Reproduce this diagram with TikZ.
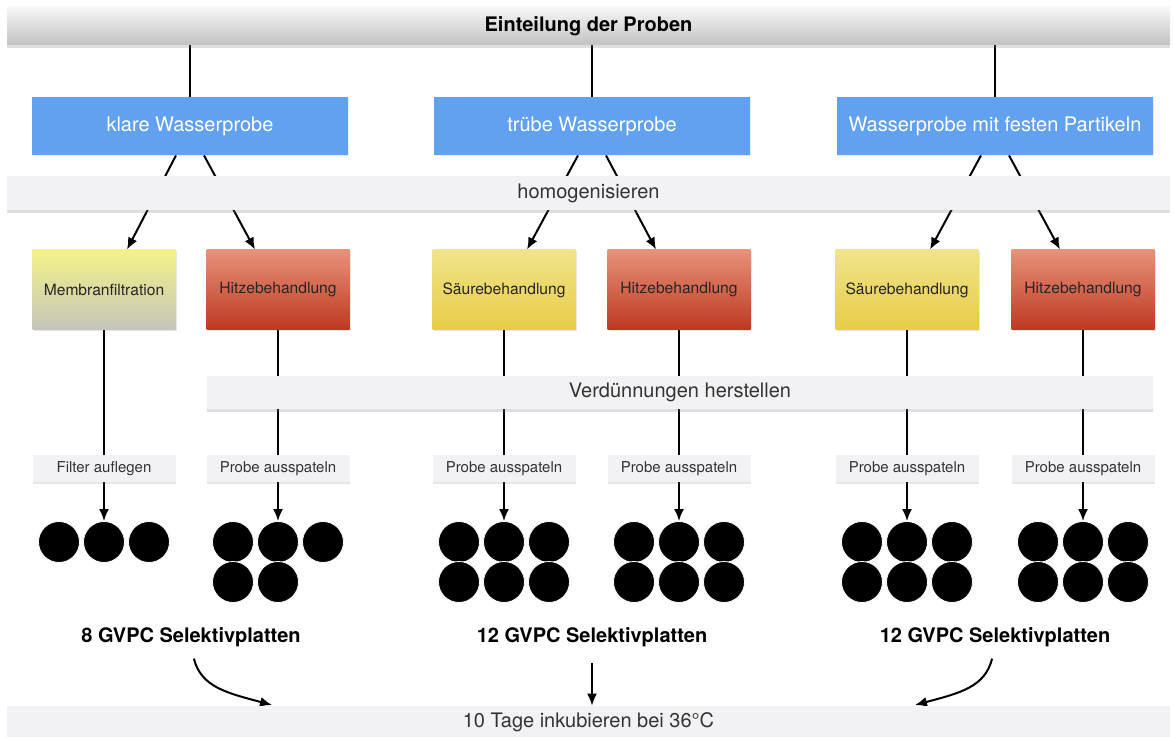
\documentclass[tikz,border=0pt]{standalone}
\usepackage{fontspec}
\setmainfont{TeX Gyre Heros}
\usetikzlibrary{calc,shadows,backgrounds,arrows.meta}

\definecolor{probeblau}{RGB}{97,161,240}
\definecolor{balkengrau}{RGB}{242,242,244}
\definecolor{textgrau}{RGB}{51,51,51}
\definecolor{gelbhell}{RGB}{240,228,140}
\definecolor{gelbdunkel}{RGB}{232,204,68}
\definecolor{rothell}{RGB}{232,146,122}
\definecolor{rotdunkel}{RGB}{190,56,32}
\definecolor{membranhell}{RGB}{243,243,138}
\definecolor{membrandunkel}{RGB}{196,196,186}

\tikzset{
	balken/.style={fill=balkengrau, minimum height=17pt, inner sep=0pt, text=textgrau, font=\fontsize{10}{12}\selectfont, drop shadow={opacity=0.25, shadow xshift=0pt, shadow yshift=-1.5pt}},
	probe/.style={fill=probeblau, minimum width=158pt, minimum height=29pt, text=white, font=\fontsize{10}{12}\selectfont, drop shadow={opacity=0.15, shadow xshift=0.5pt, shadow yshift=-0.5pt}},
	behandlung/.style={minimum width=71.5pt, minimum height=40pt, inner sep=0pt, text=black!85, font=\fontsize{7.8}{9}\selectfont, drop shadow={opacity=0.2, shadow xshift=0.5pt, shadow yshift=-0.7pt}},
	saeure/.style={behandlung, top color=gelbhell, bottom color=gelbdunkel},
	hitze/.style={behandlung, top color=rothell, bottom color=rotdunkel},
	membran/.style={behandlung, top color=membranhell, bottom color=membrandunkel},
	schritt/.style={fill=balkengrau, minimum width=71.5pt, minimum height=13.5pt, inner sep=0pt, text=textgrau, font=\fontsize{7.5}{9}\selectfont, drop shadow={opacity=0.2, shadow xshift=0pt, shadow yshift=-1pt}},
	platte/.style={circle, fill=black, draw=white, line width=0.4pt, minimum size=20.5pt, inner sep=0pt},
	ergebnis/.style={inner sep=0pt, font=\bfseries\fontsize{10}{12}\selectfont},
	linie/.style={line width=1pt},
	pfeil/.style={line width=1pt, -{Latex[length=6pt,width=5pt]}}
}

\begin{document}
\begin{tikzpicture}[x=0.5pt,y=-0.5pt]
		%%%%% START %%%%%
		\useasboundingbox (0,0) rectangle (1173,737);
		
		\node[balken, minimum width=581.5pt, minimum height=19pt, top color=black!3, bottom color=black!24, text=black, font=\bfseries\fontsize{10}{12}\selectfont] (einteilung) at (588.5,26) {Einteilung der Proben};
		
		\node[probe] (klar) at (190,126) {klare Wasserprobe};
		\node[probe] (trueb) at (592,126) {trübe Wasserprobe};
		\node[probe] (partikel) at (995,126) {Wasserprobe mit festen Partikeln};
		
		\node[balken, minimum width=581.5pt] (homogen) at (588.5,193) {homogenisieren};
		
		\node[membran] (membran) at (104,290) {Membranfiltration};
		\node[hitze] (hitzeA) at (278,290) {Hitzebehandlung};
		\node[saeure] (saeureB) at (504,290) {Säurebehandlung};
		\node[hitze] (hitzeB) at (679,290) {Hitzebehandlung};
		\node[saeure] (saeureC) at (907,290) {Säurebehandlung};
		\node[hitze] (hitzeC) at (1083,290) {Hitzebehandlung};
		
		\node[balken, minimum width=473pt, minimum height=16.5pt] (verduennen) at (680,392.5) {Verdünnungen herstellen};
		
		\node[schritt] (filter) at (104,468.5) {Filter auflegen};
		\node[schritt] (spatelA) at (278,468.5) {Probe ausspateln};
		\node[schritt] (spatelB) at (504,468.5) {Probe ausspateln};
		\node[schritt] (spatelBB) at (679,468.5) {Probe ausspateln};
		\node[schritt] (spatelC) at (907,468.5) {Probe ausspateln};
		\node[schritt] (spatelCC) at (1083,468.5) {Probe ausspateln};
		
		% platten
		\foreach \mitte/\gruppe in {104/pM,278/pHA,504/pSB,679/pHB,907/pSC,1083/pHC}
			\foreach \i in {1,2,3}
				\node[platte] (\gruppe\i) at ({\mitte+45*(\i-2)},542) {};
		\foreach \mitte/\gruppe in {504/pSB,679/pHB,907/pSC,1083/pHC}
			\foreach \i in {4,5,6}
				\node[platte] (\gruppe\i) at ({\mitte+45*(\i-5)},582) {};
		\node[platte] (pHA4) at (233,582) {};
		\node[platte] (pHA5) at (278,582) {};
		
		\node[ergebnis] (ergA) at (191,637) {8 GVPC Selektivplatten};
		\node[ergebnis] (ergB) at (592,637) {12 GVPC Selektivplatten};
		\node[ergebnis] (ergC) at (995,637) {12 GVPC Selektivplatten};
		
		\node[balken, minimum width=581.5pt, minimum height=16pt, drop shadow={opacity=0}] (inkubieren) at (588.5,722) {10 Tage inkubieren bei 36°C};
		
		\coordinate (zielA) at (272,705);
		\coordinate (zielC) at (915,705);
		
		\begin{pgfonlayer}{background}
		\foreach \probe in {klar,trueb,partikel}
			\draw[linie] (einteilung.south -| \probe.north) -- (\probe.north);
		
		\foreach \probe/\links/\rechts in {klar/membran/hitzeA, trueb/saeureB/hitzeB, partikel/saeureC/hitzeC} {
			\draw[pfeil] ($(\probe.south)+(-14,0)$) -- ($(\links.north)+(23,0)$);
			\draw[pfeil] ($(\probe.south)+(14,0)$) -- ($(\rechts.north)+(-23,0)$);
		}
		
		\foreach \oben/\unten/\platte in {membran/filter/pM2, hitzeA/spatelA/pHA2, saeureB/spatelB/pSB2, hitzeB/spatelBB/pHB2, saeureC/spatelC/pSC2, hitzeC/spatelCC/pHC2} {
			\draw[linie] (\oben.south) -- (\unten.north);
			\draw[pfeil] (\unten.south) -- (\platte.north);
		}
		
		\draw[pfeil, shorten <=6pt] (ergA.south) .. controls +(10,40) and +(-45,-12) .. (zielA);
		\draw[pfeil, shorten <=8pt] (ergB.south) -- (ergB.south |- inkubieren.north);
		\draw[pfeil, shorten <=6pt] (ergC.south) .. controls +(-10,40) and +(45,-12) .. (zielC);
		\end{pgfonlayer}
		
		%%%%% END %%%%%
\end{tikzpicture}
\end{document}
